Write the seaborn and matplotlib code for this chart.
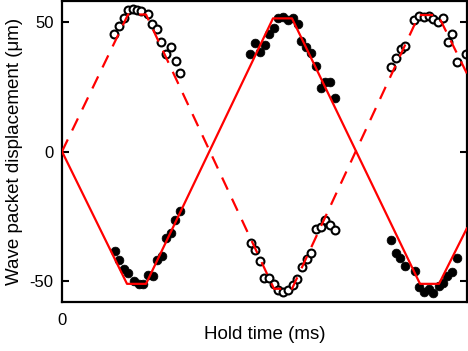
import numpy as np
import pandas as pd
import matplotlib
matplotlib.use("Agg")
import matplotlib.pyplot as plt
import seaborn as sns

# ---- model curves (hold time in arbitrary ms units, displacement in um) ----
solid_t = [0, 6.5, 8.4, 21.1, 23.0, 35.8, 37.7, 40.5]
solid_y = [0, -51.0, -51.0, 51.3, 51.3, -51.0, -51.0, -29.5]
dashed_t = [0, 6.6, 8.4, 21.2, 23.0, 35.7, 37.6, 40.5]
dashed_y = [0, 52.8, 52.8, -52.9, -52.9, 52.6, 52.6, 30.0]

# ---- open-circle data ----
open_t = [5.2, 5.67, 6.2, 6.63, 7.07, 7.47, 7.87, 8.57, 8.97, 9.5, 9.93, 10.43, 10.9, 11.4, 11.83,
          18.87, 19.3, 19.8, 20.23, 20.73, 21.17, 21.63, 22.13, 22.63, 23.07, 23.53, 23.97, 24.47,
          24.93, 25.4, 25.87, 26.33, 26.8, 27.33,
          32.9, 33.4, 33.87, 34.33, 35.23, 35.73, 36.23, 36.7, 37.13, 37.63, 38.13, 38.57, 39.03,
          39.53, 40.4]
open_y = [45.2, 48.2, 51.5, 54.6, 54.8, 54.6, 54.2, 53.1, 49.0, 47.2, 42.3, 37.7, 40.2, 34.8, 30.4,
          -35.4, -37.9, -42.1, -48.8, -48.9, -51.2, -53.3, -54.3, -53.5, -51.3, -49.2, -44.7, -41.5,
          -39.2, -30.0, -29.0, -26.4, -28.5, -30.3,
          32.7, 36.2, 39.4, 40.7, 50.7, 52.2, 51.9, 52.2, 50.9, 49.8, 51.3, 42.3, 45.2,
          34.4, 37.5]

# ---- filled-dot data ----
filled_t = [5.3, 5.73, 6.2, 6.63, 7.2, 7.7, 8.13, 8.6, 9.07, 9.53, 9.97, 10.4, 10.87, 11.33, 11.8,
            18.8, 19.3, 19.8, 20.27, 20.73, 21.17, 21.63, 22.13, 22.63, 23.13, 23.6, 23.9, 24.4,
            24.93, 25.4, 25.87, 26.3, 26.8, 27.33,
            32.9, 33.37, 33.8, 34.3, 35.3, 35.73, 36.2, 36.7, 37.07, 37.67, 38.07, 38.53, 39.03,
            39.53]
filled_y = [-38.3, -42.0, -45.3, -47.0, -49.8, -51.0, -51.0, -47.6, -47.9, -42.0, -40.2, -33.4, -31.5,
            -26.3, -23.1,
            37.5, 41.7, 38.5, 40.9, 45.2, 47.7, 51.3, 51.8, 50.5, 51.3, 49.0, 42.6, 40.3,
            38.1, 32.9, 24.5, 26.6, 26.6, 20.6,
            -34.1, -39.2, -41.1, -44.3, -45.9, -52.4, -54.1, -53.0, -54.5, -51.7, -50.7, -47.9, -46.5,
            -41.1]

x_ticks = [0]
x_tick_labels = ["0"]
y_ticks = [-50, 0, 50]
y_tick_labels = ["-50", "0", "50"]

sns.set_style("ticks")
plt.rcParams['font.family'] = ['Liberation Sans', 'DejaVu Sans']
plt.rcParams['text.color'] = 'black'
plt.rcParams['axes.labelcolor'] = 'black'
plt.rcParams['xtick.color'] = 'black'
plt.rcParams['ytick.color'] = 'black'

fig = plt.figure(figsize=(4.68, 3.51), dpi=100)
ax = fig.add_axes([62 / 468, 1 - 302 / 351, 405 / 468, 301 / 351])

df_open = pd.DataFrame({"t": open_t, "y": open_y})
df_fill = pd.DataFrame({"t": filled_t, "y": filled_y})
df_solid = pd.DataFrame({"t": solid_t, "y": solid_y})
df_dash = pd.DataFrame({"t": dashed_t, "y": dashed_y})

sns.scatterplot(data=df_fill, x="t", y="y", ax=ax, s=40, color="black",
                edgecolor="black", linewidth=0.5, zorder=2)
sns.scatterplot(data=df_open, x="t", y="y", ax=ax, s=32, facecolor="white",
                edgecolor="black", linewidth=1.5, zorder=2)
sns.lineplot(data=df_solid, x="t", y="y", ax=ax, sort=False, estimator=None,
             color="red", linewidth=1.6, zorder=3)
sns.lineplot(data=df_dash, x="t", y="y", ax=ax, sort=False, estimator=None,
             color="red", linewidth=1.6, zorder=3)
ax.lines[-1].set_dashes((6, 4.5))

ax.set_xlim(0, 40.5)
ax.set_ylim(-58, 58)
ax.set_xticks(x_ticks)
ax.set_xticklabels(x_tick_labels)
ax.set_yticks(y_ticks)
ax.set_yticklabels(y_tick_labels)
ax.tick_params(axis="y", direction="in", length=5, width=1.5, pad=6,
               labelsize=12, right=True, left=True, colors="black")
ax.tick_params(axis="x", direction="in", length=0, pad=8, labelsize=12, colors="black")

for sp in ax.spines.values():
    sp.set_visible(True)
    sp.set_linewidth(1.6)
    sp.set_color("black")

ax.set_xlabel("Hold time (ms)", fontsize=13.5, color="black")
ax.xaxis.set_label_coords(0.5, -0.08)
ax.set_ylabel("Wave packet displacement (\u03bcm)", fontsize=13.5, color="black")
ax.yaxis.set_label_coords(-0.096, 0.5)

fig.savefig("out.png", dpi=100)
